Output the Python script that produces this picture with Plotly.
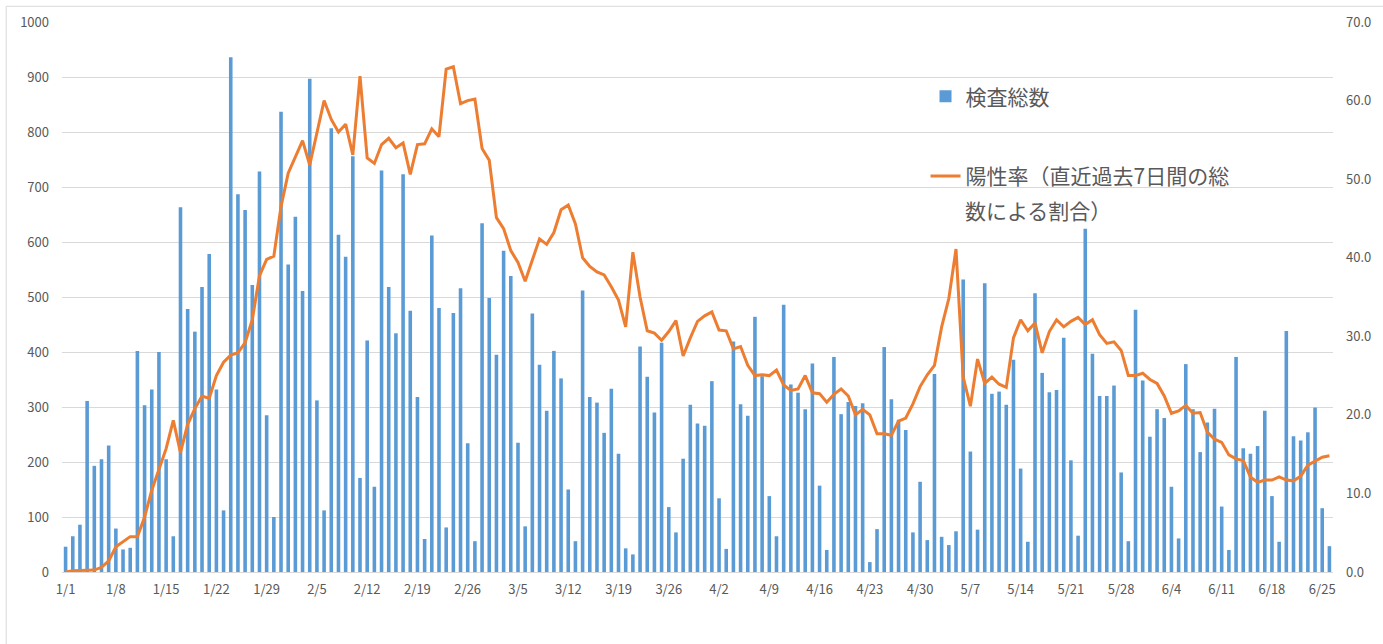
import pandas as pd
import plotly.graph_objects as go

# ---- data -------------------------------------------------------------
start_date = "2021-01-01"
n_days = 177

tests_jan = [46, 65, 86, 311, 193, 205, 230, 79, 41, 44, 402, 303, 332, 400, 205, 65,
             663, 478, 437, 518, 578, 332, 112, 936, 687, 658, 522, 728, 285, 100, 837]
tests_feb = [559, 646, 511, 897, 312, 112, 807, 613, 573, 756, 171, 421, 155, 730, 518,
             434, 723, 475, 318, 60, 612, 480, 81, 471, 516, 234, 56, 634]
tests_mar = [498, 395, 584, 538, 235, 83, 470, 377, 293, 402, 352, 150, 56, 512, 318, 308,
             253, 333, 215, 43, 32, 410, 355, 290, 417, 118, 72, 206, 304, 270, 266]
tests_apr = [347, 134, 42, 419, 305, 284, 464, 356, 138, 65, 486, 341, 326, 296, 379, 157,
             40, 391, 287, 309, 302, 307, 18, 78, 409, 314, 277, 258, 72, 164]
tests_may = [58, 360, 64, 49, 74, 532, 219, 77, 525, 324, 328, 304, 386, 188, 55, 507, 362,
             327, 331, 426, 203, 66, 624, 397, 320, 320, 339, 181, 56, 477, 348]
tests_jun = [246, 296, 280, 155, 61, 378, 296, 218, 272, 297, 119, 40, 391, 225, 215, 229,
             293, 138, 55, 438, 247, 239, 254, 299, 116, 47]

rate_jan = [0.0, 0.15, 0.2, 0.25, 0.25, 0.6, 1.4, 3.2, 3.9, 4.5, 4.5, 7.0, 10.4, 13.2, 15.7,
            19.3, 15.2, 18.8, 20.8, 22.4, 22.1, 25.0, 26.7, 27.6, 27.9, 29.2, 32.1, 37.7,
            39.8, 40.2, 46.5]
rate_feb = [50.75, 52.8, 54.9, 51.8, 56.1, 60.0, 57.6, 56.0, 57.0, 53.1, 63.1, 52.7, 52.0,
            54.4, 55.2, 54.0, 54.6, 50.6, 54.4, 54.5, 56.4, 55.4, 64.0, 64.3, 59.6, 60.0,
            60.2, 53.9]
rate_mar = [52.4, 45.1, 43.7, 40.9, 39.4, 37.0, 39.7, 42.4, 41.7, 43.2, 46.1, 46.7, 44.3,
            40.0, 38.9, 38.2, 37.8, 36.3, 34.6, 31.2, 40.7, 35.0, 30.7, 30.4, 29.5, 30.6,
            32.0, 27.5, 29.8, 31.9, 32.6]
rate_apr = [33.1, 30.8, 30.7, 28.4, 28.7, 26.3, 25.0, 25.1, 25.0, 25.7, 23.8, 23.1, 23.3,
            25.0, 22.8, 22.7, 21.6, 22.6, 23.3, 22.4, 20.0, 20.7, 20.0, 17.6, 17.6, 17.4,
            19.2, 19.6, 21.4, 23.6]
rate_may = [25.1, 26.3, 31.2, 34.8, 41.1, 24.8, 21.1, 27.1, 24.0, 24.8, 23.9, 23.5, 29.8,
            32.1, 30.7, 31.7, 27.9, 30.6, 32.1, 31.2, 31.9, 32.4, 31.5, 32.1, 30.2, 29.1,
            29.3, 28.2, 25.0, 25.0, 25.3]
rate_jun = [24.5, 24.0, 22.4, 20.2, 20.5, 21.2, 20.2, 20.3, 17.8, 16.9, 16.5, 14.9, 14.4,
            14.2, 12.1, 11.4, 11.7, 11.7, 12.1, 11.7, 11.6, 12.2, 13.6, 14.1, 14.6, 14.8]

bar_name = "検査総数"
line_name_line1 = "陽性率（直近過去7日間の総"
line_name_line2 = "数による割合）"

left_ticks = list(range(0, 1001, 100))
right_ticks = list(range(0, 71, 10))

# ---- build ------------------------------------------------------------
dates = pd.date_range(start_date, periods=n_days)
categories = [f"{d.month}/{d.day}" for d in dates]
tick_labels = categories[::7]

tests = tests_jan + tests_feb + tests_mar + tests_apr + tests_may + tests_jun
rate = rate_jan + rate_feb + rate_mar + rate_apr + rate_may + rate_jun

BLUE = "#5B9BD5"
ORANGE = "#ED7D31"
GRID = "#D9D9D9"
TXT = "#595959"
FONT = "Noto Sans CJK JP"
LEG_SIZE = 21

fig = go.Figure()
fig.add_trace(go.Bar(x=categories, y=tests, name=bar_name, marker_color=BLUE,
                     marker_line_width=0, yaxis="y", legend="legend", showlegend=True))
fig.add_trace(go.Scatter(x=categories, y=rate, name=line_name_line1, mode="lines",
                         line=dict(color=ORANGE, width=3), yaxis="y2", legend="legend2",
                         showlegend=True))

fig.update_layout(
    width=1383, height=644,
    margin=dict(l=62, r=45, t=22, b=72),
    paper_bgcolor="white", plot_bgcolor="white",
    font=dict(family=FONT, color=TXT, size=13),
    showlegend=True,
    bargap=0.5,
    xaxis=dict(type="category", categoryorder="array", categoryarray=categories,
               range=[-0.5, n_days - 0.5], tickmode="array", tickvals=tick_labels,
               ticktext=tick_labels, showgrid=False, showline=True, linecolor=GRID,
               linewidth=1, ticks="", tickangle=0, ticklabelstandoff=5,
               tickfont=dict(size=13, color=TXT)),
    yaxis=dict(range=[0, 1000], tickmode="array", tickvals=left_ticks,
               showgrid=True, gridcolor=GRID, gridwidth=1, zeroline=False,
               showline=False, ticks="", ticklabelstandoff=12,
               tickfont=dict(size=13, color=TXT)),
    yaxis2=dict(range=[0, 70], tickmode="array", tickvals=right_ticks,
                tickformat=".1f", overlaying="y", side="right", showgrid=False,
                zeroline=False, showline=False, ticks="", ticklabelstandoff=12,
                tickfont=dict(size=13, color=TXT)),
    legend=dict(x=0.6794, y=0.9015, xanchor="left", yanchor="top",
                bgcolor="rgba(0,0,0,0)", font=dict(size=LEG_SIZE, color=TXT, family=FONT)),
    legend2=dict(x=0.6794, y=0.7565, xanchor="left", yanchor="top", valign="top",
                 bgcolor="rgba(0,0,0,0)", font=dict(size=LEG_SIZE, color=TXT, family=FONT)),
    annotations=[
        dict(text=line_name_line2, xref="paper", yref="paper", x=0.7085, y=0.6576,
             xanchor="left", yanchor="middle", showarrow=False,
             font=dict(size=LEG_SIZE, color=TXT, family=FONT)),
    ],
    shapes=[
        dict(type="line", xref="paper", yref="paper", x0=-0.0439, x1=1.1,
             y0=1.0285, y1=1.0285, line=dict(color=GRID, width=1)),
        dict(type="line", xref="paper", yref="paper", x0=-0.0439, x1=-0.0439,
             y0=1.0285, y1=-0.3, line=dict(color=GRID, width=1)),
    ],
)

fig.write_html("out.html", config={"displayModeBar": False},
               post_script="document.body.style.margin='0';")
